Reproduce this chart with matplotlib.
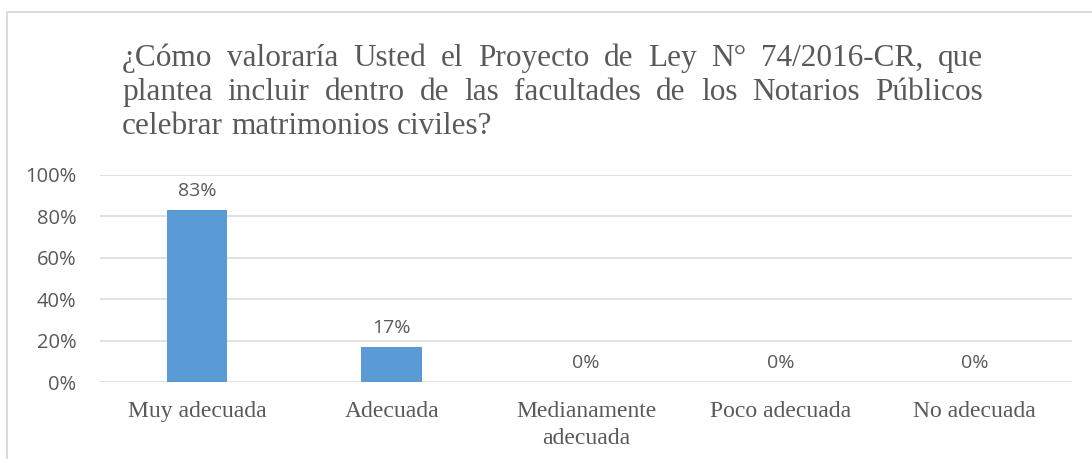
import matplotlib
matplotlib.use("Agg")
import matplotlib.pyplot as plt
from matplotlib.patches import Rectangle
from matplotlib.ticker import PercentFormatter

categories = ["Muy adecuada", "Adecuada", "Medianamente\nadecuada", "Poco adecuada", "No adecuada"]
values = [0.83, 0.17, 0.0, 0.0, 0.0]
yticks = [0, 0.2, 0.4, 0.6, 0.8, 1.0]
title_lines = [
    "¿Cómo valoraría Usted el Proyecto de Ley N° 74/2016-CR, que",
    "plantea incluir dentro de las facultades de los Notarios Públicos",
    "celebrar matrimonios civiles?",
]

W, H = 1092, 459
txt = "#595959"
grid_c = "#D9D9D9"
bar_c = "#5B9BD5"
serif = "Liberation Serif"
sans = "Open Sans"
plt.rcParams["font.family"] = serif

fig = plt.figure(figsize=(W / 100, H / 100), dpi=100)
fig.patch.set_facecolor("white")

# chart border (only top/left visible in the crop)
fig.patches.append(Rectangle((7 / W, -0.1), 1.2, 1 - 12 / H + 0.1, transform=fig.transFigure,
                             fill=False, edgecolor=grid_c, lw=1.3))

ax = fig.add_axes([100 / W, 1 - 382 / H, 972 / W, 207 / H])
x = list(range(len(categories)))
bars = ax.bar(x, values, width=0.31, color=bar_c, zorder=3)
ax.set_xlim(-0.5, len(categories) - 0.5)
ax.set_ylim(0, 1)
ax.set_yticks(yticks)
ax.yaxis.set_major_formatter(PercentFormatter(1.0, decimals=0))
ax.grid(axis="y", color=grid_c, lw=1.1, zorder=0)
for s in ax.spines.values():
    s.set_visible(False)
ax.tick_params(axis="y", length=0, pad=17, labelsize=14.5, labelcolor=txt)
ax.tick_params(axis="x", length=0, pad=14, labelcolor=txt)
for lab in ax.get_yticklabels():
    lab.set_family(sans)
ax.set_xticks(x)
ax.set_xticklabels(categories, family=serif, fontsize=17, linespacing=1.35, color=txt)

for b, v in zip(bars, values):
    ax.annotate(f"{v:.0%}", (b.get_x() + b.get_width() / 2, v), xytext=(0, 7),
                textcoords="offset points", ha="center", va="bottom",
                family=sans, fontsize=14, color=txt)

# justified title
left, right = 122, 983
baselines = [66, 100, 134]
tsize = 22.5
fig.canvas.draw()
rend = fig.canvas.get_renderer()
for i, (line, yb) in enumerate(zip(title_lines, baselines)):
    words = line.split(" ")
    arts = [fig.text(0, 1 - yb / H, w, family=serif, fontsize=tsize, color=txt,
                     va="baseline", ha="left") for w in words]
    widths = [a.get_window_extent(rend).width for a in arts]
    if i < len(title_lines) - 1:
        gap = (right - left - sum(widths)) / (len(words) - 1)
    else:
        gap = tsize * 100 / 72 * 0.25
    xp = left
    for a, w in zip(arts, widths):
        a.set_x(xp / W)
        xp += w + gap

fig.savefig("out.png", dpi=100, facecolor="white")
